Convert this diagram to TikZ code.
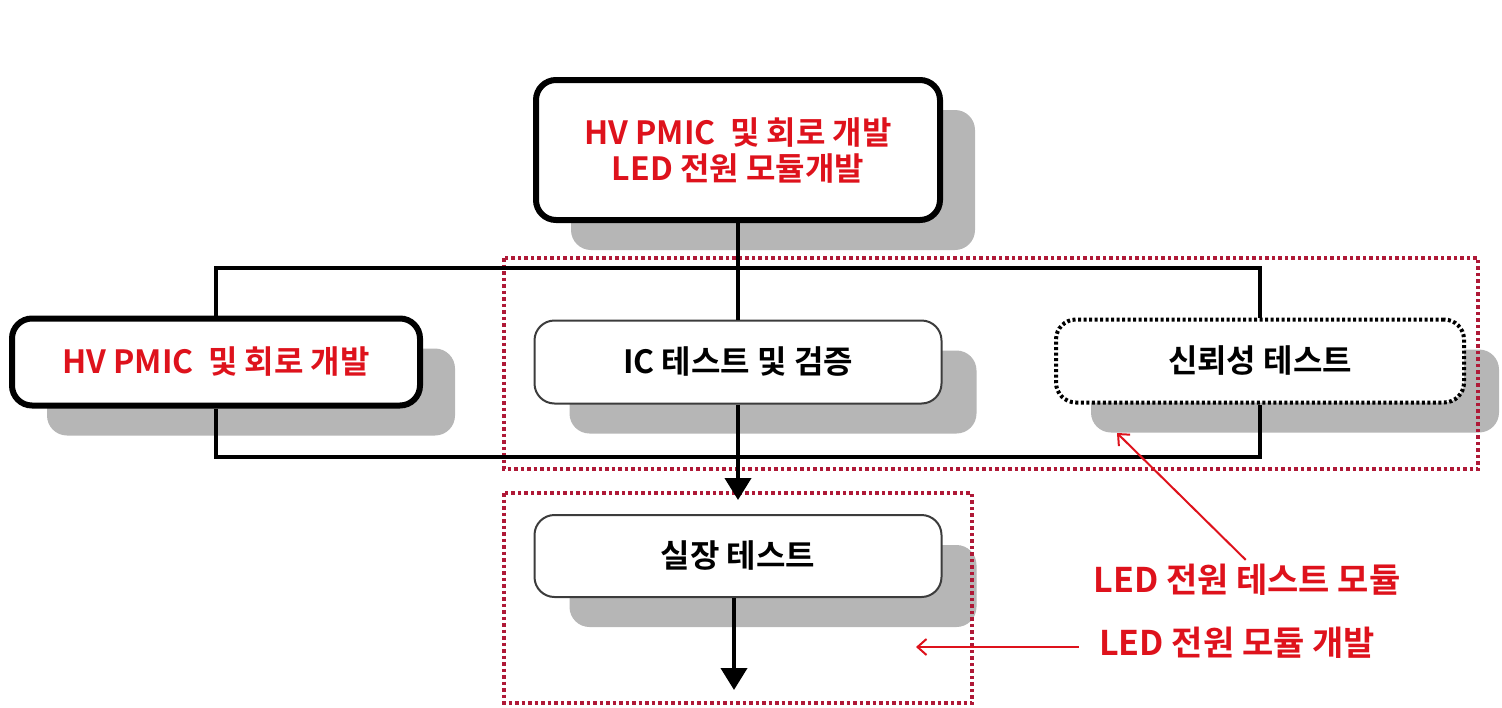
\documentclass[tikz,border=0pt]{standalone}
\usepackage{fontspec}
\setmainfont{Noto Sans CJK KR}[BoldFont={Noto Sans CJK KR Bold}]
\usetikzlibrary{arrows.meta,shadows}
\definecolor{txtred}{RGB}{222,18,28}
\definecolor{boxred}{RGB}{175,25,55}
\definecolor{shade}{RGB}{182,182,182}
\definecolor{thinline}{RGB}{60,60,60}
\begin{document}
\begin{tikzpicture}[x=1pt,y=-1pt,
  shadowed/.style={drop shadow={shadow xshift=35pt,shadow yshift=-30pt,fill=shade,opacity=1}},
  thickbox/.style={draw=black,line width=6pt,rounded corners=20pt,fill=white,shadowed,
     minimum width=404pt,inner sep=0pt,align=center,font=\fontsize{32}{36}\selectfont\bfseries},
  thinbox/.style={draw=thinline,line width=2pt,rounded corners=20pt,fill=white,shadowed,
     minimum width=407pt,minimum height=83pt,inner sep=0pt,align=center,font=\fontsize{32}{36}\selectfont\bfseries},
  dotbox/.style={draw=black,line width=4pt,dash pattern=on 3pt off 2.5pt,rounded corners=20pt,fill=white,shadowed,
     minimum width=408pt,minimum height=83pt,inner sep=0pt,align=center,font=\fontsize{32}{36}\selectfont\bfseries},
  conn/.style={line width=4pt,draw=black},
  redframe/.style={draw=boxred,line width=3.5pt,dash pattern=on 3.5pt off 3pt},
  redlbl/.style={text=txtred,font=\fontsize{34}{38}\selectfont\bfseries,inner sep=0pt},
  redarrow/.style={draw=txtred,line width=2pt,-{Straight Barb[length=9pt,width=16pt]}}
]
\useasboundingbox (0,0) rectangle (1502,707);
% boxes
\node[thickbox,minimum height=140pt,text=txtred] (top) at (738,150) {HV PMIC \ 및 회로 개발\\LED 전원 모듈개발};
\node[thickbox,minimum height=87pt,minimum width=408pt,text=txtred] (left) at (216,362) {HV PMIC \ 및 회로 개발};
\node[thinbox] (ic) at (738,362) {IC 테스트 및 검증};
\node[dotbox] (rel) at (1260,361) {신뢰성 테스트};
\node[thinbox,minimum height=82pt] (real) at (738,556) {실장 테스트};
% red frames
\draw[redframe] (504,258) rectangle (1478,469);
\draw[redframe] (504,493) rectangle (972,703);
% connectors
\coordinate (bustop) at (738,268);
\coordinate (busbot) at (738,457);
\coordinate (endpt) at (734,690);
\draw[conn] (top.south) -- (ic.north);
\draw[conn] (left.north) |- (bustop) -| (rel.north);
\draw[conn] (left.south) |- (busbot) -| (rel.south);
\draw[conn,-{Triangle[width=26pt,length=22pt]},shorten >=14pt] (ic.south) -- (real.north);
\draw[conn,-{Triangle[width=26pt,length=22pt]}] (real.south -| endpt) -- (endpt);
% labels
\node[redlbl] (lbl1) at (1247,580) {LED 전원 테스트 모듈};
\node[redlbl] (lbl2) at (1237,643) {LED 전원 모듈 개발};
\coordinate (a1) at (1117,433);
\coordinate (a2) at (916,647);
\draw[redarrow,shorten <=6pt] (lbl1.north) ++(3,0) -- (a1);
\draw[redarrow] (lbl2.west |- a2) ++(-20,0) -- (a2);
\end{tikzpicture}
\end{document}
